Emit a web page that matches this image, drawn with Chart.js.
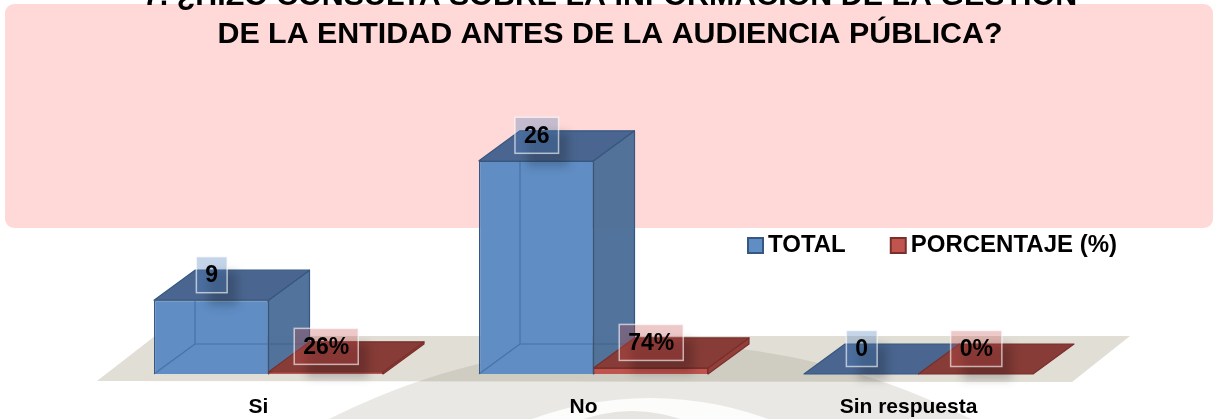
<!DOCTYPE html>
<html><head><meta charset="utf-8">
<style>html,body{margin:0;padding:0;background:#fff}canvas{display:block}</style>
<script src="https://cdn.jsdelivr.net/npm/chart.js@4"></script>
</head><body>
<canvas id="c" width="1215" height="419"></canvas>
<script>
const categories = ['Si', 'No', 'Sin respuesta'];
const totalValues = [9, 26, 0];
const percentValues = [0.26, 0.74, 0];
const titleLines = ['7. ¿HIZO CONSULTA SOBRE LA INFORMACIÓN DE LA GESTIÓN', 'DE LA ENTIDAD ANTES DE LA AUDIENCIA PÚBLICA?'];
const seriesNames = ['TOTAL', 'PORCENTAJE (%)'];

const FONT = '"Liberation Sans", Arial, sans-serif';
const DX = 41, DY = -30;
const looks = [
  {front:'#5F8DC4', edge:'#36577F', side:'rgba(76,110,152,.97)', top:'#4A6690', hidden:'rgba(52,92,140,.55)', tint:'rgba(79,129,189,.33)', swatch:'#5F8DC4', fmt:v=>String(v)},
  {front:'#C0544F', edge:'#7A2F2B', side:'#93403B', top:'#873C37', hidden:null, tint:'rgba(200,75,75,.30)', swatch:'#C0544F', fmt:v=>Math.round(v*100)+'%'}
];
function poly(ctx, pts, fill, stroke, lw){
  ctx.beginPath();
  pts.forEach((p,i)=> i?ctx.lineTo(p[0],p[1]):ctx.moveTo(p[0],p[1]));
  ctx.closePath();
  if(fill){ctx.fillStyle=fill;ctx.fill();}
  if(stroke){ctx.strokeStyle=stroke;ctx.lineWidth=lw||1.2;ctx.lineJoin='round';ctx.stroke();}
}
function faces(chart,index){
  const ctx = chart.ctx, look = looks[index];
  ctx.save();
  chart.getDatasetMeta(index).data.forEach(el=>{
    const l=el.x-el.width/2, r=el.x+el.width/2, y=el.y, b=el.base;
    if(b-y>0.5) poly(ctx,[[r,y],[r,b],[r+DX,b+DY],[r+DX,y+DY]],look.side,look.edge);
    poly(ctx,[[l,y],[r,y],[r+DX,y+DY],[l+DX,y+DY]],look.top,look.edge);
  });
  ctx.restore();
}
const scene = {
  id:'scene',
  afterLayout(chart){
    const t = chart.titleBlock; t.left = 0; t.right = 1220;
    const l = chart.legend; l.left = 703; l.right = 1303; l.top = 189; l.bottom = 267;
    l.adjustHitBoxes();
  },
  beforeDraw(chart){
    const ctx = chart.ctx;
    ctx.save();
    ctx.fillStyle='#fff'; ctx.fillRect(0,0,1215,419);
    ctx.beginPath(); ctx.roundRect(5,4,1208,224,9); ctx.fillStyle='#FFD9D7'; ctx.fill();
    const b = chart.scales.y.getPixelForValue(0);
    poly(ctx,[[97,b+7],[155,b-38],[1130,b-38],[1072,b+8]],'#E1DED6');
    ctx.beginPath(); ctx.arc(650,1059,716,0,Math.PI*2); ctx.fillStyle='rgba(110,100,80,.15)'; ctx.fill();
    ctx.beginPath(); ctx.arc(650,740,342,0,Math.PI*2); ctx.fillStyle='rgba(255,255,255,.85)'; ctx.fill();
    ctx.beginPath(); ctx.arc(632,561,150,0,Math.PI*2); ctx.fillStyle='rgba(110,100,80,.15)'; ctx.fill();
    ctx.restore();
  },
  // the library paints the first dataset last; the second one is painted by hand right after it, so it lies on top
  beforeDatasetDraw(chart,args){
    if(args.index===1) return false;
    faces(chart,0);
  },
  afterDatasetDraw(chart,args){
    const ctx = chart.ctx, look = looks[0];
    ctx.save(); ctx.strokeStyle=look.hidden; ctx.lineWidth=1.2;
    chart.getDatasetMeta(0).data.forEach(el=>{
      const l=el.x-el.width/2, r=el.x+el.width/2, y=el.y, b=el.base;
      if(b-y<=0.5) return;
      ctx.beginPath();
      ctx.moveTo(l+DX,y); ctx.lineTo(l+DX,b+DY); ctx.lineTo(r+DX,b+DY);
      ctx.moveTo(l,b); ctx.lineTo(l+DX,b+DY);
      ctx.stroke();
    });
    ctx.restore();
    faces(chart,1);
    chart.getDatasetMeta(1).controller.draw();
  },
  afterDatasetsDraw(chart){
    const ctx = chart.ctx;
    ctx.save();
    const boxes=[];
    ctx.font='bold 23px '+FONT;
    chart.data.datasets.forEach((ds,di)=>{
      chart.getDatasetMeta(di).data.forEach((el,i)=>{
        const txt=looks[di].fmt(ds.data[i]);
        const w=ctx.measureText(txt).width+18;
        boxes.push({x:el.x+.5,y:el.y-25.5,w,h:36,txt,look:looks[di]});
      });
    });
    boxes.forEach(o=>{
      ctx.save(); ctx.filter='blur(5px)'; ctx.fillStyle='rgba(0,0,0,.2)';
      ctx.fillRect(o.x-o.w/2+12,o.y-18+15,o.w-2,o.h-2); ctx.restore();
    });
    boxes.forEach(o=>{
      ctx.fillStyle=o.look.tint; ctx.fillRect(o.x-o.w/2,o.y-18,o.w,o.h);
      ctx.strokeStyle='rgba(255,255,255,.62)'; ctx.lineWidth=1.5; ctx.strokeRect(o.x-o.w/2,o.y-18,o.w,o.h);
      ctx.fillStyle='#000'; ctx.textAlign='center'; ctx.textBaseline='middle';
      ctx.fillText(o.txt,o.x,o.y+1);
    });
    // legend swatches, positioned from the legend's own item boxes
    chart.legend.legendHitBoxes.forEach((h,i)=>{
      ctx.fillStyle=looks[i].swatch; ctx.strokeStyle=looks[i].edge; ctx.lineWidth=2;
      ctx.fillRect(h.left+1,238,15,15); ctx.strokeRect(h.left+1,238,15,15);
    });
    ctx.restore();
  }
};
new Chart(document.getElementById('c'),{
  type:'bar',
  data:{labels:categories,datasets:[
    {label:seriesNames[0],data:totalValues,backgroundColor:looks[0].front,borderColor:looks[0].edge,borderWidth:1.2,categoryPercentage:0.7046,barPercentage:1},
    {label:seriesNames[1],data:percentValues,backgroundColor:looks[1].front,borderColor:looks[1].edge,borderWidth:1,categoryPercentage:0.7046,barPercentage:1}
  ]},
  options:{
    responsive:false,animation:false,devicePixelRatio:1,
    layout:{padding:{left:106,right:134,top:0,bottom:0}},
    plugins:{
      tooltip:{enabled:false},
      title:{display:true,text:titleLines,color:'#000',font:{family:FONT,size:30.4,weight:'bold',lineHeight:38/30.4},padding:{top:-22,bottom:-54}},
      legend:{display:true,position:'top',align:'start',labels:{
        font:{family:FONT,size:24,weight:'bold'},color:'#000',boxWidth:9,boxHeight:1,padding:44,
        generateLabels:c=>Chart.defaults.plugins.legend.labels.generateLabels(c).map(o=>Object.assign(o,{fillStyle:'transparent',strokeStyle:'transparent',lineWidth:0}))
      }}
    },
    scales:{
      x:{grid:{display:false,tickLength:21},border:{display:false},
         ticks:{color:'#000',font:{family:FONT,size:21,weight:'bold',lineHeight:24/21},padding:0,labelOffset:-10,maxRotation:0}},
      y:{display:false,min:0,max:36.1}
    }
  },
  plugins:[scene]
});
</script>
</body></html>
